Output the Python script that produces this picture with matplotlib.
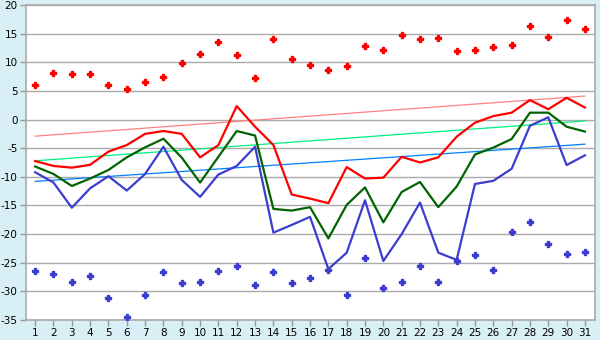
# Daily temperatures for a month: max / mean / min, records and normals
import matplotlib.pyplot as plt

days = list(range(1, 32))

t_max = [-7.25, -8.1, -8.4, -7.9, -5.6, -4.45, -2.5, -2.0, -2.5, -6.6,
         -4.45, 2.35, -1.25, -4.45, -13.1, -13.8, -14.6, -8.3, -10.3, -10.15,
         -6.5, -7.5, -6.6, -3.0, -0.55, 0.6, 1.2, 3.4, 1.8, 3.8, 2.1]
t_mean = [-8.2, -9.5, -11.6, -10.3, -8.8, -6.6, -4.85, -3.35, -6.65, -11.0,
          -6.5, -2.0, -2.8, -15.6, -15.9, -15.3, -20.75, -14.9, -11.85, -17.95,
          -12.65, -10.9, -15.3, -11.7, -6.1, -4.9, -3.4, 1.2, 1.2, -1.25, -2.1]
t_min = [-9.2, -11.0, -15.4, -12.0, -9.9, -12.4, -9.5, -4.75, -10.55, -13.5,
         -9.6, -8.1, -4.75, -19.75, -18.4, -17.0, -26.1, -23.25, -14.1, -24.7,
         -20.0, -14.5, -23.25, -24.5, -11.25, -10.7, -8.6, -1.1, 0.4, -7.95, -6.25]

rec_high = [6.1, 8.1, 7.9, 7.9, 6.0, 5.4, 6.5, 7.5, 9.9, 11.4,
            13.5, 11.2, 7.2, 14.0, 10.5, 9.6, 8.6, 9.3, 12.8, 12.1,
            14.75, 14.0, 14.2, 11.9, 12.1, 12.6, 13.1, 16.3, 14.5, 17.3, 15.75]
rec_low = [-26.5, -27.0, -28.3, -27.4, -31.2, -34.5, -30.7, -26.7, -28.6, -28.4,
           -26.5, -25.5, -28.9, -26.7, -28.6, -27.6, -26.3, -30.7, -24.2, -29.4,
           -28.3, -25.6, -28.4, -24.7, -23.7, -26.2, -19.7, -17.95, -21.8, -23.5, -23.2]

# normals, first and last day of the month
norm_days = [1, 31]
norm_max = [-2.9, 4.1]
norm_mean = [-7.2, -0.25]
norm_min = [-10.8, -4.3]

plt.rcParams['axes.unicode_minus'] = False
plt.rcParams['font.family'] = 'DejaVu Sans'

fig = plt.figure(figsize=(6, 3.4), dpi=100, facecolor='#d9eff6')
ax = fig.add_axes([26 / 600, 20 / 340, 569 / 600, 315 / 340])
ax.set_facecolor('white')

ax.plot(norm_days, norm_max, color='#ff8080', lw=0.9, zorder=2)
ax.plot(norm_days, norm_mean, color='#00f080', lw=0.9, zorder=2)
ax.plot(norm_days, norm_min, color='#0080ff', lw=0.9, zorder=2)

ax.plot(days, rec_high, ls='none', marker='P', ms=4, color='#ff0000', zorder=3)
ax.plot(days, rec_low, ls='none', marker='P', ms=4, color='#3c3cd0', zorder=3)

ax.plot(days, t_max, color='#ff0000', lw=1.6, zorder=4)
ax.plot(days, t_mean, color='#006400', lw=1.6, zorder=4)
ax.plot(days, t_min, color='#3c3cd0', lw=1.6, zorder=4)

ax.set_xlim(0.5, 31.55)
ax.set_ylim(-35, 20)
ax.set_xticks(days)
ax.set_yticks(range(-35, 21, 5))
ax.yaxis.grid(True, color='#aaaaaa', lw=1.0)
ax.set_axisbelow(True)
ax.tick_params(axis='both', colors='#999999', labelcolor='black', labelsize=7.5,
               length=4, width=1, pad=2)
for s in ax.spines.values():
    s.set_color('#aaaaaa')
    s.set_linewidth(1.2)

fig.savefig('out.png', dpi=100, facecolor=fig.get_facecolor())
